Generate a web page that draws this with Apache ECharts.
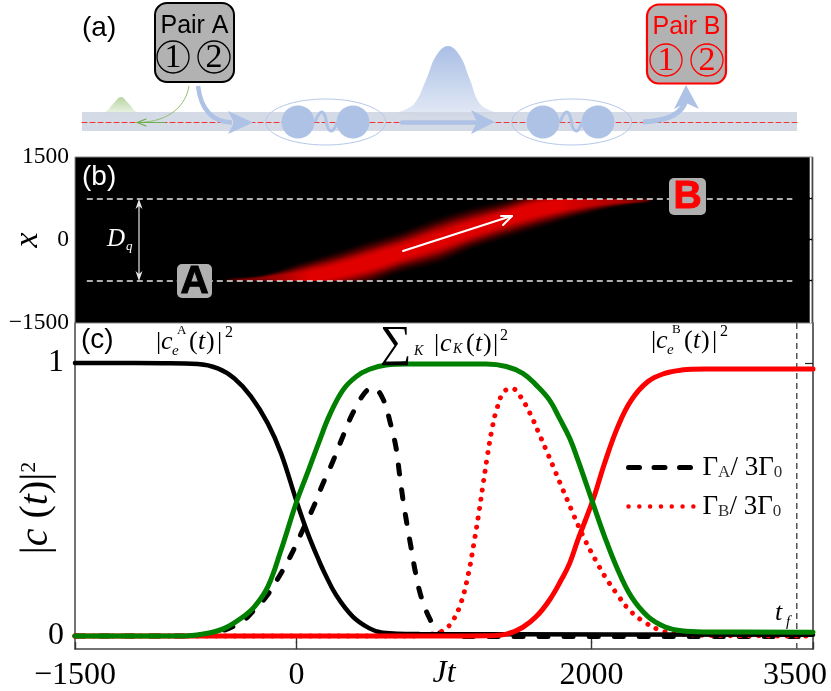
<!DOCTYPE html>
<html><head><meta charset="utf-8">
<style>html,body{margin:0;padding:0;background:#fff}#c{width:831px;height:691px}</style>
<script src="https://cdn.jsdelivr.net/npm/echarts@6/dist/echarts.min.js"></script></head>
<body><div id="c"></div>
<script>
// Panel (c): values
const tBlack=[-1500,-900,-670,-533,-420,-307,-194,-104,0,77,156,190,269,382,495,585,834,1500,3500];
const vBlack=[1,.999,.996,.98,.943,.877,.779,.669,.495,.376,.272,.232,.15,.071,.028,.012,.007,.006,.005];
const tGreen=[-1500,-737,-601,-488,-375,-285,-194,-104,0,77,156,224,314,405,495,608,744,1286,1422,1534,1625,1715,1783,1851,1907,2009,2088,2178,2269,2382,2495,2608,2766,3500];
const vGreen=[0,.001,.01,.028,.065,.107,.18,.315,.49,.6,.715,.808,.9,.95,.977,.993,.996,.996,.987,.962,.919,.864,.797,.725,.645,.486,.364,.242,.144,.071,.034,.019,.015,.014];
const tRed=[-1500,1000,1286,1422,1534,1625,1715,1794,1851,1907,2009,2088,2178,2269,2382,2495,2608,2766,3500];
const vRed=[0,0,.001,.007,.032,.071,.132,.205,.266,.352,.498,.633,.767,.864,.932,.962,.974,.978,.978];
const tGammaA=[-1500,-800,-500,-353,-307,-205,-104,-25,43,117,178,246,314,382,461,517,585,637,676,698,721,748,778,807,845,902,958,1026,1200,3500];
const vGammaA=[0,0,.02,.06,.083,.144,.23,.309,.388,.474,.556,.638,.73,.816,.889,.91,.87,.779,.687,.596,.504,.413,.321,.232,.144,.065,.016,.003,-.002,-.002];
const tGammaB=[-1500,800,958,1015,1060,1116,1166,1202,1234,1263,1293,1327,1358,1406,1464,1517,1584,1639,1690,1742,1792,1846,1871,1953,2027,2095,2172,2251,2355,2477,2608,2830,3500];
const vGammaB=[0,0,.012,.028,.056,.123,.23,.337,.443,.549,.656,.763,.832,.895,.906,.878,.814,.748,.684,.618,.553,.485,.452,.354,.278,.214,.154,.098,.052,.019,.007,.002,0];
const tFinal=3390;
const xTicks=[-1500,0,2000,3500];
const yTicksC=[0,1];
const yTicksB=[-1500,0,1500];
// Panel (b): the bright band and the two pair positions
const bandT=[-488,-251,20,244,495,698,969,1173,1424,1647,1871,2122,2393];
const bandCentre=[-741,-723,-687,-578,-398,-235,0,181,398,560,669,723,728];
const bandUpper=[-741,-669,-416,-235,-18,145,416,578,723,904,885,849,741];
const bandLower=[-741,-813,-958,-922,-795,-596,-416,-181,36,217,398,578,728];
const bandFractions=[1,.92,.84,.76,.68,.6,.52,.44,.36,.28];
const bandReds=[10,24,44,70,100,132,164,192,212,224];
const fadeT=[-556,-353,-149,88,1783,2190,2393,2529];
const fade=[0,.3,.7,1,1,.75,.3,0];
const pairX=[-741,740];
const pairLineT=[-1420,3360];

const zip=(a,b)=>a.map((x,i)=>[x,b[i]]);
const SERIF='"Liberation Serif",serif', SANS='"Liberation Sans",sans-serif';
const minus=v=>String(v).replace('-','\u2212');

function T(x,y,text,size,o={}){return {type:'text',z:110,x,y,style:{text,fill:o.fill||'#000',stroke:o.stroke||null,lineWidth:o.stroke?1:0,font:(o.style||'')+' '+size+'px '+(o.fam||SERIF),textAlign:o.align||'left',textVerticalAlign:'middle'}};}
function R(x,y,w,h,r,fill,stroke,lw,z){return {type:'rect',z:z||105,shape:{x,y,width:w,height:h,r},style:{fill,stroke:stroke||null,lineWidth:lw||0}};}
function C(cx,cy,r,fill,stroke,lw,z){return {type:'circle',z:z||103,shape:{cx,cy,r},style:{fill:fill||null,stroke:stroke||null,lineWidth:lw||0}};}
function L(x1,y1,x2,y2,stroke,lw,dash,z){return {type:'line',z:z||106,shape:{x1,y1,x2,y2},style:{stroke,lineWidth:lw,lineDash:dash||null,lineCap:'round'}};}
function P(points,fill,z,smooth){return {type:'polygon',z:z||104,shape:{points,smooth:smooth||0},style:{fill}};}
function B(x1,y1,cx1,cy1,cx2,cy2,x2,y2,stroke,lw){return {type:'bezierCurve',z:104,shape:{x1,y1,x2,y2,cpx1:cx1,cpy1:cy1,cpx2:cx2,cpy2:cy2},style:{stroke,lineWidth:lw,fill:null}};}
const blue='#aec2e6';
const grad=(a,b)=>({type:'linear',x:0,y:0,x2:0,y2:1,colorStops:[{offset:0,color:a},{offset:1,color:b}]});
function sub(x,y,s,sz,o){return T(x,y,s,sz||15,o);}

const graphics=[
 // panel (a)
 T(82,28,'(a)',28,{fam:SANS}),
 P([[85,115],[105,112],[113,104],[121,97],[129,104],[137,112],[158,115]],grad('#b6d5a0','#f2f7ee'),100,0.4),
 P([[398,114],[414,104],[426,80],[436,56],[448,46],[460,56],[470,80],[480,104],[496,114]],grad('#a9bfe4','#e4eaf6'),100,0.4),
 R(82,112,715,19,0,'rgba(205,213,226,0.85)',null,0,101),
 L(82,122.5,480,122.5,'#f03030',1,[5,3],102),
 L(480,122.5,797,122.5,'#e83838',1,[5,3],102),
 B(189,86,186,105,170,122,138,122.5,'#8fc070',1),
 L(137,122.5,146,119,'#6fae4a',1.2), L(137,122.5,146,126,'#6fae4a',1.2), L(137,122.5,165,122.5,'#6fae4a',1.2),
 B(198,86,201,110,212,122,232,122.5,blue,4.5),
 P([[253,122.5],[228,111],[234,122.5],[228,134]],blue,105),
 {type:'ellipse',z:103,shape:{cx:325.7,cy:122,rx:60,ry:23},style:{fill:null,stroke:'#b6c8e8',lineWidth:1}},
 {type:'ellipse',z:103,shape:{cx:571.7,cy:122,rx:60,ry:23},style:{fill:null,stroke:'#b6c8e8',lineWidth:1}},
 C(298,122,16.5,blue),C(353,122,16.5,blue),C(543,122,16.5,blue),C(598,122,16.5,blue),
 {type:'polyline',z:103,shape:{points:[[315,122],[319,114],[322,112],[325,116],[328,128],[331,131],[334,129],[337,122]],smooth:.5},style:{stroke:blue,lineWidth:3,fill:null}},
 {type:'polyline',z:103,shape:{points:[[560,122],[564,114],[567,112],[570,116],[573,128],[576,131],[579,129],[582,122]],smooth:.5},style:{stroke:blue,lineWidth:3,fill:null}},
 L(402,122.5,476,122.5,blue,4.5,null,104),
 P([[495,122],[471,110],[477,122],[471,134]],blue,105),
 B(643,122,665,121,682,115,686,100,blue,5),
 P([[686,85],[674,109],[686,103],[699,109]],blue,105),
 R(155,3,79,79,12,'#b2b2b2','#000',2),
 T(194.5,26,'Pair A',25,{fam:SANS,align:'center'}),
 C(173,57,16,null,'#000',1.3,106),C(214,57,16,null,'#000',1.3,106),
 T(173,58,'1',34,{align:'center'}),T(214,58,'2',34,{align:'center'}),
 R(647,4.5,79,79,12,'#b2b2b2','#ff0000',2.2),
 T(686.5,27,'Pair B',25,{fam:SANS,align:'center',fill:'#f00'}),
 C(666,60,16,null,'#f00',1.3,106),C(707,60,16,null,'#f00',1.3,106),
 T(666,61,'1',34,{align:'center',fill:'#f00'}),T(707,61,'2',34,{align:'center',fill:'#f00'}),
 // panel (b) annotations
 T(82,177,'(b)',28,{fam:SANS,fill:'#fff'}),
 L(139,203,139,277,'#e6e6e6',1.2),
 P([[139,199],[135.5,209],[139,206],[142.5,209]],'#e6e6e6',106),
 P([[139,281],[135.5,271],[139,274],[142.5,271]],'#e6e6e6',106),
 T(107,239,'D',25,{style:'italic',fill:'#fff'}),
 sub(126,247,'q',13,{style:'italic',fill:'#fff'}),
 L(403,251,510,216.5,'#fff',2),
 L(512,216,501,216,'#fff',2),L(512,216,503,225,'#fff',2),
 R(177,264,35,34,5,'#b0b0b0'),
 T(194.5,282,'A',39,{fam:SANS,style:'bold',align:'center',stroke:'#000'}),
 R(669,178,37,37,5,'#b0b0b0'),
 T(687.5,197,'B',39,{fam:SANS,style:'bold',align:'center',fill:'#f00',stroke:'#f00'}),
 L(810.7,158,810.7,197,'#fff',2),L(810.7,200,810.7,238,'#fff',2),L(810.7,241,810.7,279,'#fff',2),L(810.7,282,810.7,322,'#fff',2),
 // panel (c) annotations
 T(81,340,'(c)',28,{fam:SANS}),
 T(156,342,'|',26),T(161,342,'c',26,{style:'italic'}),sub(177,331,'A',13),sub(172,351,'e',15,{style:'italic'}),T(189,342,'(',26),T(198,342,'t',26,{style:'italic'}),T(206,342,')',26),T(217,342,'|',26),T(225,333,'2',16),
 T(651,341,'|',26),T(656,341,'c',26,{style:'italic'}),sub(672,330,'B',13),sub(667,350,'e',15,{style:'italic'}),T(684,341,'(',26),T(693,341,'t',26,{style:'italic'}),T(701,341,')',26),T(712,341,'|',26),T(720,332,'2',16),
 T(380,344,'\u2211',44),sub(414,351,'K',14,{style:'italic'}),T(434,344,'|',26),T(440,344,'c',26,{style:'italic'}),sub(453,349,'K',14,{style:'italic'}),T(466,344,'(',26),T(475,344,'t',26,{style:'italic'}),T(483,344,')',26),T(493,344,'|',26),T(500,336,'2',16),
 T(775,613,'t',26,{style:'italic'}),sub(786,622,'f',15,{style:'italic'}),
];

const chart=echarts.init(document.getElementById('c'),null,{renderer:'canvas'});
const bandLevel=(api,i)=>{
  const f=bandFractions[i], r=bandReds[i];
  const up=bandT.map((t,k)=>api.coord([t,bandCentre[k]+(bandUpper[k]-bandCentre[k])*f]));
  const lo=bandT.map((t,k)=>api.coord([t,bandCentre[k]+(bandLower[k]-bandCentre[k])*f])).reverse();
  const a=api.coord([-1500,pairX[1]]),b=api.coord([3500,pairX[0]]);
  const x0=api.coord([fadeT[0],0])[0],x1=api.coord([fadeT[fadeT.length-1],0])[0];
  const stops=fadeT.map((t,k)=>({offset:(t-fadeT[0])/(fadeT[fadeT.length-1]-fadeT[0]),color:'rgb('+Math.round(r*fade[k])+',0,0)'}));
  return {type:'polygon',shape:{points:up.concat(lo),smooth:0.3},
    style:{fill:new echarts.graphic.LinearGradient(x0,0,x1,0,stops,true),shadowBlur:3,shadowColor:'rgba('+r+',0,0,0.6)'},
    clipPath:{type:'rect',shape:{x:a[0],y:a[1],width:b[0]-a[0],height:b[1]-a[1]}}};
};
const axLine={show:true,onZero:false,lineStyle:{color:'#444',width:1.5}};
const line=(name,x,y,color,width,type,z)=>({name,type:'line',xAxisIndex:1,yAxisIndex:1,data:zip(x,y),symbol:'none',smooth:.4,z,
  lineStyle:{color,width,type:type||'solid',cap:'round'},itemStyle:{color},clip:true,animation:false});

chart.setOption({
 animation:false,backgroundColor:'#fff',
 grid:[{left:75,top:157,width:738,height:166,outerBoundsMode:'none',show:true,backgroundColor:'#000',borderColor:'#888',borderWidth:1},
       {left:75,top:323,width:738,height:326,outerBoundsMode:'none',show:false}],
 xAxis:[
  {type:'value',gridIndex:0,min:-1500,max:3500,axisLine:{show:false},axisTick:{show:false},axisLabel:{show:false},splitLine:{show:false}},
  {type:'value',gridIndex:1,min:-1500,max:3500,position:'bottom',axisLine:axLine,splitLine:{show:false},
   axisTick:{show:true,inside:true,length:7,lineStyle:{color:'#333',width:1.4},customValues:xTicks},
   axisLabel:{customValues:xTicks,margin:11,fontFamily:SERIF,fontSize:32,color:'#000',showMinLabel:true,showMaxLabel:true,hideOverlap:false,
    formatter:v=>v===3500?'{r|3500}':minus(v),rich:{r:{fontFamily:SERIF,fontSize:32,color:'#000',padding:[0,36,0,0]}}},
   name:'Jt',nameLocation:'middle',nameGap:9,nameMoveOverlap:false,nameTextStyle:{fontFamily:SERIF,fontStyle:'italic',fontSize:32,color:'#000',verticalAlign:'top'}},
  {type:'value',gridIndex:1,min:-1500,max:3500,position:'top',axisLine:{show:false},axisLabel:{show:false},splitLine:{show:false},
   axisTick:{show:true,inside:true,length:7,lineStyle:{color:'#333',width:1.4},customValues:xTicks.slice(1,3)}}
 ],
 yAxis:[
  {type:'value',gridIndex:0,min:-1500,max:1500,interval:1500,axisLine:{show:false},axisTick:{show:false},splitLine:{show:false},
   axisLabel:{margin:6,fontFamily:SERIF,fontSize:23.5,color:'#000',formatter:minus,customValues:yTicksB},
   name:'x',nameLocation:'middle',nameGap:30,nameRotate:90,nameMoveOverlap:false,nameTextStyle:{fontFamily:SERIF,fontStyle:'italic',fontSize:34,color:'#000'}},
  {type:'value',gridIndex:1,min:-0.0476,max:1.1465,axisLine:axLine,splitLine:{show:false},
   axisTick:{inside:true,length:7,lineStyle:{color:'#444',width:1.2},customValues:yTicksC},
   axisLabel:{customValues:yTicksC,margin:11,fontFamily:SERIF,fontSize:32,color:'#000'},
   name:'{a||}{c|c}{a| (}{c|t}{a|)|}{s|2}',nameLocation:'middle',nameGap:19,nameRotate:90,nameMoveOverlap:false,
   nameTextStyle:{padding:[0,44,0,0],rich:{a:{fontFamily:SERIF,fontSize:40,color:'#000'},c:{fontFamily:SERIF,fontStyle:'italic',fontSize:40,color:'#000'},s:{fontFamily:SERIF,fontSize:22,color:'#000',padding:[0,0,14,0]}}}},
  {type:'value',gridIndex:1,min:-0.0476,max:1.1465,position:'right',axisLine:{show:true,onZero:false,lineStyle:{color:'#666',width:2}},splitLine:{show:false},axisLabel:{show:false},
   axisTick:{inside:true,length:8,lineStyle:{color:'#222',width:1.2},customValues:[1]}}
 ],
 legend:{show:true,orient:'vertical',left:626,top:454,itemWidth:66,itemHeight:10,itemGap:12,padding:0,
   data:[{name:'GA',itemStyle:{opacity:0},lineStyle:{width:5,type:[11,14.5],cap:'round'}},
         {name:'GB',itemStyle:{opacity:0},lineStyle:{width:4.5,type:[0.01,10.8],cap:'round'}}],
   formatter:n=>n==='GA'?'{p|}{g|\u0393}{s|A}{g|/ 3\u0393}{s|0}':'{p|}{g|\u0393}{s|B}{g|/ 3\u0393}{s|0}',
   textStyle:{rich:{p:{width:3},g:{fontFamily:SERIF,fontSize:27,color:'#000'},s:{fontFamily:SERIF,fontSize:17,color:'#333',padding:[10,0,0,0]}}}},
 graphic:{elements:graphics},
 series:[
  {type:'custom',xAxisIndex:0,yAxisIndex:0,z:2,clip:true,data:bandFractions.map(f=>[0,f]),encode:{x:0,y:1},
   renderItem:(p,api)=>bandLevel(api,p.dataIndex)},
  ...pairX.map(x=>({type:'line',xAxisIndex:0,yAxisIndex:0,z:3,symbol:'none',data:pairLineT.map(t=>[t,x]),lineStyle:{color:'#e8e8e8',width:1.4,type:[6,4]},silent:true})),
  {type:'line',xAxisIndex:1,yAxisIndex:1,z:2,symbol:'none',data:[[tFinal,-0.0476],[tFinal,1.1465]],lineStyle:{color:'#555',width:1.5,type:[6,4]},silent:true},
  line('GA',tGammaA,vGammaA,'#000',5,[9,16],3),
  line('GB',tGammaB,vGammaB,'#f00',5,[0.01,9.4],3),
  line('black',tBlack,vBlack,'#000',4.5,null,4),
  line('red',tRed,vRed,'#f00',5,null,5),
  line('green',tGreen,vGreen,'#008000',5,null,6)
 ]
});
</script></body></html>
